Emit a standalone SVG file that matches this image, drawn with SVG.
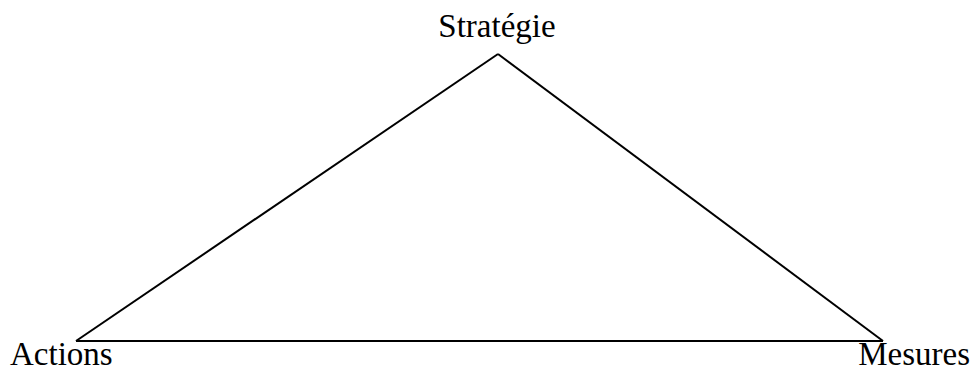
<svg xmlns="http://www.w3.org/2000/svg" width="975" height="370" viewBox="0 0 975 370">
<style>
.lbl{font-family:"Liberation Serif","Times New Roman",serif;font-size:33px;fill:#000}
.edge{stroke:#000;stroke-width:2;fill:none}
</style>
<rect width="975" height="370" fill="#fff"/>
<g id="connectors">
<line class="edge" x1="498" y1="54" x2="76" y2="341"/>
<line class="edge" x1="498" y1="54" x2="883" y2="341"/>
<line class="edge" x1="76" y1="341" x2="883" y2="341"/>
</g>
<g id="strategie"><text class="lbl" x="497" y="37" text-anchor="middle">Stratégie</text></g>
<g id="actions"><text class="lbl" x="10" y="365">Actions</text></g>
<g id="mesures"><text class="lbl" x="970" y="365" text-anchor="end">Mesures</text></g>
</svg>
